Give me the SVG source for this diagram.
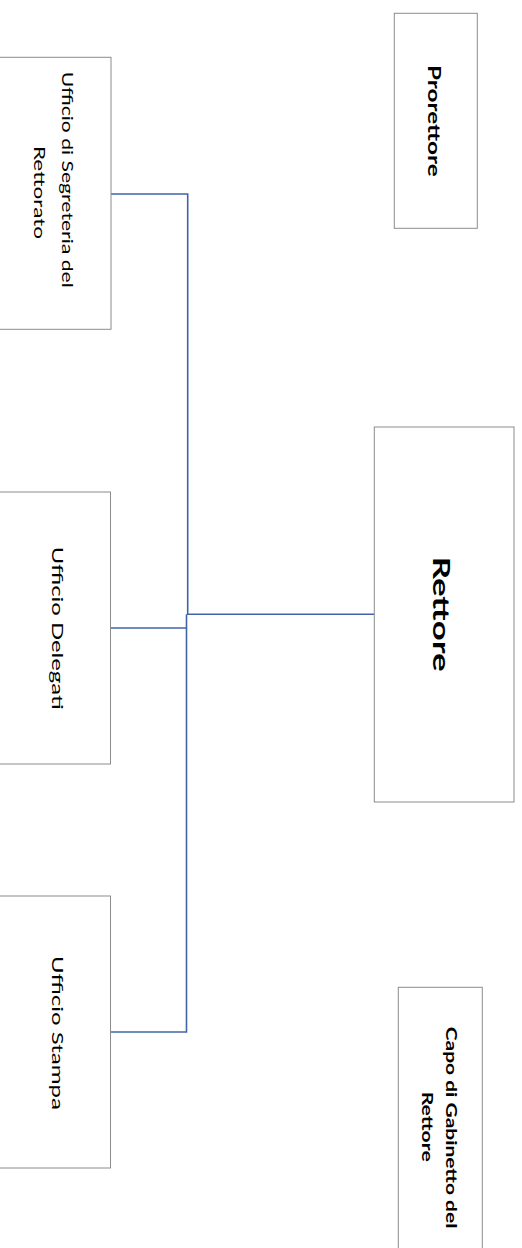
<svg xmlns="http://www.w3.org/2000/svg" width="522" height="1248" viewBox="0 0 522 1248">
<style>
.box{fill:#ffffff;stroke:#8c8c8c;stroke-width:1}
.t{font-family:Lato,"Open Sans","Liberation Sans",sans-serif;font-size:15px;fill:#000}
.b{font-weight:bold}
.conn{fill:none;stroke:#4064a8;stroke-width:1.6}
</style>
<rect width="522" height="1248" fill="#ffffff"/>
<g id="connectors">
<path class="conn" d="M374,614.3 H187.7"/>
<path class="conn" d="M111,194 H187.7 V615"/>
<path class="conn" d="M110.5,628 H186.5"/>
<path class="conn" d="M186.5,614.3 V1032 H110.5"/>
</g>
<g id="segreteria">
<rect class="box" x="-20" y="57.3" width="131" height="272"/>
<text class="t" transform="translate(62,71.7) rotate(90)" textLength="216" lengthAdjust="spacingAndGlyphs">Ufficio di Segreteria del</text>
<text class="t" transform="translate(34,146) rotate(90)" textLength="93" lengthAdjust="spacingAndGlyphs">Rettorato</text>
</g>
<g id="delegati">
<rect class="box" x="-20" y="492" width="130.5" height="272"/>
<text class="t" transform="translate(51.5,546.7) rotate(90)" textLength="163" lengthAdjust="spacingAndGlyphs">Ufficio Delegati</text>
</g>
<g id="stampa">
<rect class="box" x="-20" y="896" width="130.5" height="272"/>
<text class="t" transform="translate(51.5,956) rotate(90)" textLength="154" lengthAdjust="spacingAndGlyphs">Ufficio Stampa</text>
</g>
<g id="prorettore">
<rect class="box" x="394.3" y="13.3" width="83" height="215"/>
<text class="t b" style="font-size:16.5px" transform="translate(428,65) rotate(90)" textLength="111.7" lengthAdjust="spacingAndGlyphs">Prorettore</text>
</g>
<g id="rettore">
<rect class="box" x="374.3" y="427" width="139.7" height="375"/>
<text class="t b" style="font-size:22px" transform="translate(432.5,556.7) rotate(90)" textLength="115" lengthAdjust="spacingAndGlyphs">Rettore</text>
</g>
<g id="capo">
<rect class="box" x="398.3" y="987.3" width="84" height="280"/>
<text class="t b" style="font-size:16px" transform="translate(446,1026.7) rotate(90)" textLength="201.7" lengthAdjust="spacingAndGlyphs">Capo di Gabinetto del</text>
<text class="t b" style="font-size:16px" transform="translate(422,1091.7) rotate(90)" textLength="70" lengthAdjust="spacingAndGlyphs">Rettore</text>
</g>
</svg>
